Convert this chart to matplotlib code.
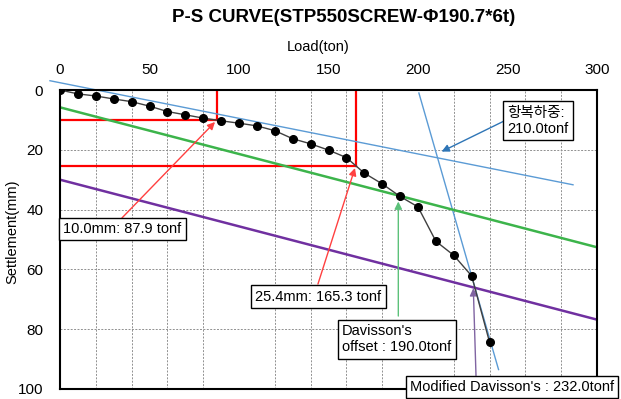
import numpy as np
import matplotlib
matplotlib.use("Agg")
import matplotlib.pyplot as plt
from matplotlib.ticker import MultipleLocator

plt.rcParams['font.family'] = ['Liberation Sans', 'Noto Sans CJK KR']

# load test data
load = [0, 10, 20, 30, 40, 50, 60, 70, 80, 90, 100, 110, 120,
        130, 140, 150, 160, 170, 180, 190, 200, 210, 220, 230, 240]
settle = [0.0, 1.3, 2.0, 3.0, 3.9, 5.4, 7.2, 8.3, 9.4, 10.3, 11.1, 12.0, 13.6,
          16.3, 18.0, 20.1, 22.6, 27.8, 31.4, 35.6, 39.1, 50.6, 55.3, 62.2, 84.4]

# construction lines (two end points each)
yield_x1 = [-5.6, 286.6]
yield_y1 = [-3.1, 31.7]
yield_x2 = [200.5, 245.0]
yield_y2 = [1.0, 93.5]
dav_x = [0, 300]
dav_y = [5.8, 52.6]
mdav_x = [0, 300]
mdav_y = [30.0, 76.8]

# settlement criteria
s10, p10 = 10.0, 87.9
s25, p25 = 25.4, 165.3

fig = plt.figure(figsize=(6.21, 3.99), dpi=100)
ax = fig.add_axes([60/621, 1-389/399, 537/621, 299/399])

ax.set_xlim(0, 300)
ax.set_ylim(100, 0)
ax.xaxis.tick_top()
ax.xaxis.set_major_locator(MultipleLocator(50))
ax.xaxis.set_minor_locator(MultipleLocator(20))
ax.yaxis.set_major_locator(MultipleLocator(20))
ax.grid(which='minor', axis='x', color='#909090', ls=(0, (2, 1.5)), lw=0.7)
ax.grid(which='major', axis='y', color='#909090', ls=(0, (2, 1.5)), lw=0.7)
ax.tick_params(axis='x', which='both', length=0, pad=9, labelsize=11)
ax.tick_params(axis='y', length=0, pad=12, labelsize=11)
for sp in ax.spines.values():
    sp.set_linewidth(1.5)
ax.set_axisbelow(True)

# red settlement lines
ax.plot([p10, p10], [0, s10], color='#ff0000', lw=1.6)
ax.plot([0, p10], [s10, s10], color='#ff0000', lw=1.6)
ax.plot([p25, p25], [0, s25], color='#ff0000', lw=1.6)
ax.plot([0, p25], [s25, s25], color='#ff0000', lw=1.6)

ax.plot(yield_x1, yield_y1, color='#5b9bd5', lw=1.0, clip_on=False)
ax.plot(yield_x2, yield_y2, color='#5b9bd5', lw=1.0, clip_on=False)
ax.plot(dav_x, dav_y, color='#3cb44b', lw=1.8)
ax.plot(mdav_x, mdav_y, color='#7030a0', lw=1.8)

ax.plot(load, settle, color='#404040', lw=1.0, marker='o', ms=5.5,
        mfc='black', mec='black', zorder=5)


def arrow(start, tip, color):
    ax.annotate('', xy=tip, xytext=start, annotation_clip=False,
                arrowprops=dict(arrowstyle='-|>', color=color, lw=1.0,
                                mutation_scale=11, shrinkA=0, shrinkB=0))


def label(x, y, txt, ha='left'):
    ax.text(x, y, txt, ha=ha, va='center', fontsize=10.5, clip_on=False,
            multialignment='left', zorder=6,
            bbox=dict(boxstyle='square,pad=0.3', fc='white', ec='black', lw=1.0))


arrow((34.6, 42.8), (86.6, 10.7), '#ff4040')
arrow((144.1, 64.9), (164.8, 26.1), '#ff4040')
arrow((189.0, 75.6), (189.0, 37.3), '#5cc17a')
arrow((232.4, 95.5), (230.9, 66.3), '#8064a2')
arrow((248.0, 10.4), (213.2, 20.6), '#2e75b6')

label(1.7, 46.5, '10.0mm: 87.9 tonf')
label(144.4, 69.1, '25.4mm: 165.3 tonf', ha='center')
label(188.0, 83.3, "Davisson's\noffset : 190.0tonf", ha='center')
label(195.5, 99.3, "Modified Davisson's : 232.0tonf")
label(249.9, 10.3, '항복하중:\n210.0tonf')

fig.text(344/621, 1-18/399, 'P-S CURVE(STP550SCREW-Φ190.7*6t)', ha='center',
         va='center', fontsize=13.5, fontweight='bold')
fig.text(318/621, 1-47/399, 'Load(ton)', ha='center', va='center', fontsize=10.5)
fig.text(12/621, 1-232/399, 'Settlement(mm)', ha='center', va='center',
         fontsize=10.5, rotation=90)

fig.savefig('out.png', dpi=100)
